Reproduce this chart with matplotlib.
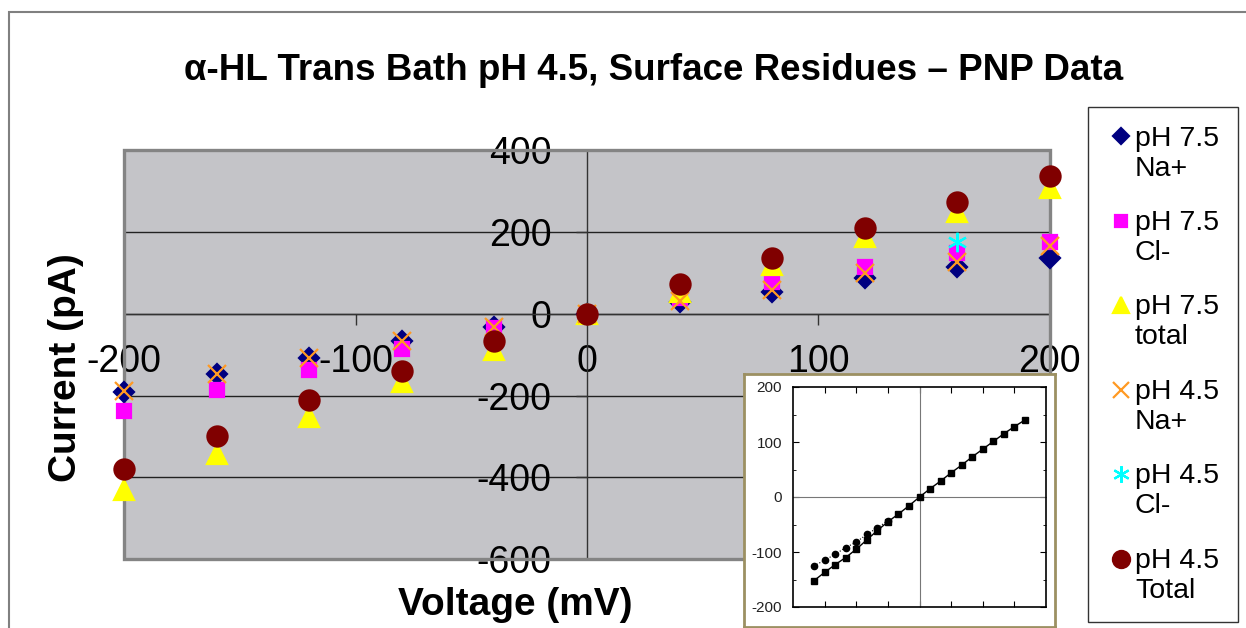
import numpy as np
import matplotlib
matplotlib.use("Agg")
import matplotlib.pyplot as plt
from matplotlib.patches import Rectangle
from matplotlib.legend_handler import HandlerLine2D

plt.rcParams['font.family'] = ['Liberation Sans', 'DejaVu Sans']
plt.rcParams['axes.unicode_minus'] = False

# main chart data (mV, pA)
voltage = [-200, -160, -120, -80, -40, 0, 40, 80, 120, 160, 200]
ph75_na = [-191, -148, -109, -67, -33, 0, 29, 54, 87, 115, 136]
ph75_cl = [-237, -187, -138, -85, -36, 0, 38, 78, 115, 148, 176]
ph75_total = [-430, -342, -252, -166, -89, 0, 54, 119, 189, 250, 307]
ph45_na = [-190, -148, -109, -67, -32, 0, 32, 58, 99, 127, 166]
ph45_cl = [np.nan] * 9 + [176, np.nan]
ph45_total = [-381, -299, -211, -139, -67, 0, 73, 136, 209, 273, 337]

# inset (experimental) data
inset_v = [-100, -90, -80, -70, -60, -50, -40, -30, -20, -10, 0,
           10, 20, 30, 40, 50, 60, 70, 80, 90, 100]
inset_sq = [-152, -137, -123, -110, -95, -78, -61, -45, -31, -16, 0,
            15, 29, 44, 58, 73, 87, 101, 115, 128, 140]
inset_circ_v = [-100, -90, -80, -70, -60, -50, -40, -30]
inset_circ = [-125, -115, -104, -92, -82, -68, -56, -43]


class TopLineHandler(HandlerLine2D):
    # put the marker next to the first line of a two-line label
    def create_artists(self, legend, orig_handle, xdescent, ydescent,
                       width, height, fontsize, trans):
        arts = super().create_artists(legend, orig_handle, xdescent, ydescent,
                                      width, height, fontsize, trans)
        for a in arts:
            a.set_ydata(np.asarray(a.get_ydata(), float) + 0.6 * fontsize)
        return arts


W, H = 1246, 628
fig = plt.figure(figsize=(W / 100, H / 100), dpi=100)


def fx(px):
    return px / W


def fy(py):
    return 1 - py / H


ax = fig.add_axes([fx(124.3), fy(559), fx(1049.7) - fx(124.3), fy(150.3) - fy(559)])
ax.set_facecolor('#c4c4c8')
ax.set_xlim(-200, 200)
ax.set_ylim(-600, 400)

series = [
    (ph75_na, 'D', 10, '#000080', 'pH 7.5\nNa+'),
    (ph75_cl, 's', 10.5, '#ff00ff', 'pH 7.5\nCl-'),
    (ph75_total, '^', 14, '#ffff00', 'pH 7.5\ntotal'),
    (ph45_na, 'x', 13, '#ff9922', 'pH 4.5\nNa+'),
    (ph45_cl, (6, 2, 0), 14, '#00ffff', 'pH 4.5\nCl-'),
    (ph45_total, 'o', 14.5, '#800000', 'pH 4.5\nTotal'),
]
for vals, mk, ms, col, lab in series:
    ax.plot(voltage, vals, ls='none', marker=mk, ms=ms, mew=1.6, color=col,
            label=lab, zorder=3, clip_on=False)

ax.spines['top'].set_visible(False)
ax.spines['right'].set_visible(False)
ax.spines['left'].set_position(('data', 0))
ax.spines['bottom'].set_position(('data', 0))
for s in ('left', 'bottom'):
    ax.spines[s].set_color('#333333')
    ax.spines[s].set_linewidth(1)
    ax.spines[s].set_zorder(1.6)
ax.add_patch(Rectangle((0, 0), 1, 1, transform=ax.transAxes, fill=False,
                       ec='#848484', lw=2.4, clip_on=False, zorder=2.5))

ax.set_xticks([-200, -100, 0, 100, 200])
ax.set_yticks([-600, -400, -200, 0, 200, 400])
ax.yaxis.grid(True, color='#222222', lw=1)
ax.set_axisbelow(True)
ax.tick_params(axis='x', direction='out', length=8, width=1, pad=14,
               labelsize=27, color='#333333')
ax.tick_params(axis='y', direction='out', length=8, width=1, pad=17.5,
               labelsize=27, color='#333333')

fig.text(fx(654), fy(71), '\u03b1-HL Trans Bath pH 4.5, Surface Residues \u2013 PNP Data',
         ha='center', va='center', fontsize=26.5, fontweight='bold')
fig.text(fx(66), fy(368), 'Current (pA)', rotation=90, ha='center', va='center',
         fontsize=28, fontweight='bold')
fig.text(fx(515), fy(605), 'Voltage (mV)', ha='center', va='center',
         fontsize=28, fontweight='bold')

handles, labels = ax.get_legend_handles_labels()
leg = fig.legend(handles, labels, loc='upper left',
                 bbox_to_anchor=(fx(1088), fy(107)), bbox_transform=fig.transFigure,
                 fontsize=20.5, frameon=True, fancybox=False, edgecolor='black',
                 borderpad=0.65, handlelength=1.0, handletextpad=0.0,
                 labelspacing=1.0, borderaxespad=0, markerscale=0.85,
                 handler_map={h: TopLineHandler() for h in handles})
leg.get_frame().set_linewidth(1.0)

# inset picture of measured I-V curve
frame = fig.add_axes([fx(744), fy(627), fx(1055) - fx(744), fy(374) - fy(627)])
frame.set_facecolor('white')
frame.set_xticks([])
frame.set_yticks([])
for s in frame.spines.values():
    s.set_color('#9c9062')
    s.set_linewidth(2)

ins = fig.add_axes([fx(793), fy(607), fx(1046) - fx(793), fy(387) - fy(607)])
ins.set_xlim(-120, 120)
ins.set_ylim(-200, 200)
ins.axhline(0, color='#777777', lw=0.8)
ins.axvline(0, color='#777777', lw=0.8)
ins.plot(inset_v, inset_sq, color='black', lw=1, marker='s', ms=5)
ins.plot(inset_circ_v, inset_circ, color='black', lw=0.8, ls=':', marker='o', ms=4.5)
ins.set_xticks([-90, -60, -30, 0, 30, 60, 90])
ins.set_yticks([-200, -100, 0, 100, 200])
ins.set_yticks([-150, -50, 50, 150], minor=True)
ins.set_xticklabels([])
ins.tick_params(which='both', direction='in', top=True, right=True, length=4,
                labelsize=11, labelcolor='#222222', pad=8)
ins.tick_params(which='minor', length=2.5)
for s in ins.spines.values():
    s.set_linewidth(1.2)

fig.add_artist(Rectangle((fx(9), -0.1), 1.2, fy(11.5) + 0.1, transform=fig.transFigure,
                         fill=False, ec='#808080', lw=1.5))

fig.savefig('out.png', dpi=100)
